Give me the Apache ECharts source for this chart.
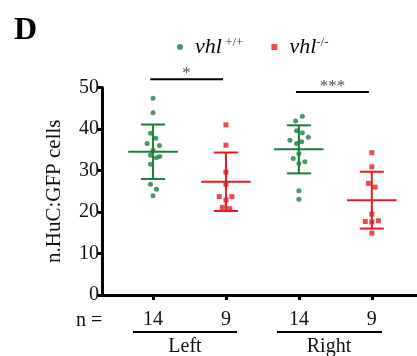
<!DOCTYPE html>
<html>
<head>
<meta charset="utf-8">
<script src="https://cdn.jsdelivr.net/npm/echarts@6/dist/echarts.min.js"></script>
<style>
  html, body { margin: 0; padding: 0; background: #fff; }
  #chart { width: 417px; height: 356px; }
</style>
</head>
<body>
<div id="chart"></div>
<script>
// group positions on the x axis: Left wt, Left ko, Right wt, Right ko
const groupPos = [1, 2, 3, 4]
const nLabels = ['14', '9', '14', '9']
const yTicks = [0, 10, 20, 30, 40, 50]

// cell counts
const leftWt = [47.4, 43.9, 39.0, 37.8, 36.5, 36.0, 34.9, 33.7, 33.1, 33.4, 31.5, 26.7, 25.5, 23.9]
const leftKo = [41.0, 36.1, 29.6, 26.7, 23.7, 23.7, 22.9, 21.1, 20.8]
const rightWt = [43.1, 41.9, 39.6, 39.1, 37.3, 38.0, 36.9, 36.5, 34.1, 32.9, 31.7, 32.1, 25.1, 23.1]
const rightKo = [34.3, 30.9, 26.9, 26.0, 19.5, 17.7, 17.6, 17.9, 14.9]

// horizontal scatter of the dots (in group units)
const leftWtJitter = [0, 0, -0.035, 0.037, -0.082, 0.088, 0, -0.035, 0.047, 0.092, -0.035, -0.035, 0.047, 0]
const leftKoJitter = [0, 0, 0, 0, -0.092, 0.082, 0, -0.05, 0.05]
const rightWtJitter = [0.047, -0.045, -0.032, 0.047, -0.123, 0.129, 0.037, -0.032, 0, -0.077, 0, 0.082, 0, 0]
const rightKoJitter = [0, 0, -0.047, 0.045, 0, -0.088, 0, 0.09, 0]

// significance bars: [from, to, height, label]
const sigBars = [[1, 2, 52, '*'], [3, 4, 48.9, '***']]

const GREEN = '#1b7d3d'
const RED = '#e61b23'
const FONT = '"Liberation Serif", "DejaVu Serif", serif'

function stats(vals) {
  const m = vals.reduce((a, b) => a + b, 0) / vals.length
  const v = vals.reduce((a, b) => a + (b - m) * (b - m), 0) / (vals.length - 1)
  return [m, Math.sqrt(v)]
}

function points(pos, vals, jit) {
  return vals.map((v, i) => [pos + jit[i], v])
}

function errorItem(pos, vals) {
  const [m, sd] = stats(vals)
  return [pos, m, sd]
}

function renderError(color) {
  return function (params, api) {
    const x = api.value(0), m = api.value(1), sd = api.value(2)
    const seg = (x1, y1, x2, y2) => {
      const a = api.coord([x1, y1]), b = api.coord([x2, y2])
      return { type: 'line', shape: { x1: a[0], y1: a[1], x2: b[0], y2: b[1] },
        style: { stroke: color, lineWidth: 2 } }
    }
    return { type: 'group', children: [
      seg(x - 0.34, m, x + 0.34, m),
      seg(x, m - sd, x, m + sd),
      seg(x - 0.165, m + sd, x + 0.165, m + sd),
      seg(x - 0.165, m - sd, x + 0.165, m - sd)
    ] }
  }
}

const chart = echarts.init(document.getElementById('chart'))

chart.setOption({
  animation: false,
  title: {
    text: 'D', left: 9, top: 10,
    textStyle: { fontFamily: FONT, fontWeight: 'bold', fontSize: 32, color: '#000' }
  },
  legend: {
    top: 31, left: 172,
    itemWidth: 6, itemHeight: 6, itemGap: 28,
    data: [{ name: 'wt', icon: 'circle' }, { name: 'ko', icon: 'rect' }],
    formatter: name => name === 'wt' ? '{i|vhl}{s| +/+}' : '{i|vhl}{s|-/-}',
    textStyle: {
      rich: {
        i: { fontFamily: FONT, fontStyle: 'italic', fontSize: 22, color: '#000', lineHeight: 22, padding: [0, 0, 0, 7] },
        s: { fontFamily: FONT, fontSize: 13, color: '#333', padding: [0, 0, 9, 0] }
      }
    }
  },
  grid: { left: 102, right: 0, top: 87.5, bottom: 61 },
  xAxis: {
    type: 'value', min: 0.3, max: 4.62,
    splitLine: { show: false },
    axisLine: { lineStyle: { color: '#000', width: 3 } },
    axisTick: { customValues: groupPos, length: 5, lineStyle: { color: '#000', width: 3 } },
    axisLabel: {
      customValues: groupPos, margin: 15,
      formatter: v => nLabels[groupPos.indexOf(v)],
      fontFamily: FONT, fontSize: 20, color: '#111'
    }
  },
  yAxis: {
    type: 'value', min: 0, max: 50, interval: 10,
    name: 'n.HuC:GFP cells', nameLocation: 'middle', nameGap: 37,
    nameTextStyle: { fontFamily: FONT, fontSize: 21, color: '#111' },
    splitLine: { show: false },
    axisLine: { show: true, lineStyle: { color: '#000', width: 3 } },
    axisTick: { show: true, length: 4, lineStyle: { color: '#000', width: 3 } },
    axisLabel: {
      margin: 3, fontFamily: FONT, fontSize: 20, color: '#111',
      formatter: v => yTicks.includes(v) ? String(v) : ''
    }
  },
  graphic: [
    { type: 'text', left: 76, top: 311, style: { text: 'n =', font: '20px ' + FONT, fill: '#111' } },
    { type: 'line', shape: { x1: 133, y1: 332, x2: 237, y2: 332 }, style: { stroke: '#000', lineWidth: 2 } },
    { type: 'line', shape: { x1: 277, y1: 332, x2: 382, y2: 332 }, style: { stroke: '#000', lineWidth: 2 } },
    { type: 'text', x: 185, y: 347, style: { text: 'Left', font: '20px ' + FONT, fill: '#111', align: 'center', verticalAlign: 'middle' } },
    { type: 'text', x: 329, y: 347, style: { text: 'Right', font: '20px ' + FONT, fill: '#111', align: 'center', verticalAlign: 'middle' } }
  ],
  series: [
    {
      name: 'wt', type: 'scatter', symbol: 'circle', symbolSize: 5,
      itemStyle: { color: GREEN },
      data: points(1, leftWt, leftWtJitter).concat(points(3, rightWt, rightWtJitter)),
      z: 3
    },
    {
      name: 'ko', type: 'scatter', symbol: 'rect', symbolSize: 5,
      itemStyle: { color: RED },
      data: points(2, leftKo, leftKoJitter).concat(points(4, rightKo, rightKoJitter)),
      z: 3
    },
    {
      name: 'wtErr', type: 'custom', renderItem: renderError(GREEN),
      data: [errorItem(1, leftWt), errorItem(3, rightWt)], z: 2
    },
    {
      name: 'koErr', type: 'custom', renderItem: renderError(RED),
      data: [errorItem(2, leftKo), errorItem(4, rightKo)], z: 2
    },
    {
      name: 'sig', type: 'custom', clip: false,
      renderItem: function (params, api) {
        const a = api.coord([api.value(0) - 0.04, api.value(2)])
        const b = api.coord([api.value(1) - 0.04, api.value(2)])
        const label = sigBars[params.dataIndex][3]
        return { type: 'group', children: [
          { type: 'line', shape: { x1: a[0], y1: a[1], x2: b[0], y2: b[1] }, style: { stroke: '#000', lineWidth: 2 } },
          { type: 'text', x: (a[0] + b[0]) / 2, y: a[1] + 3,
            style: { text: label, font: '17px ' + FONT, fill: '#555', align: 'center', verticalAlign: 'bottom' } }
        ] }
      },
      data: sigBars.map(s => [s[0], s[1], s[2]])
    }
  ]
})
</script>
</body>
</html>
